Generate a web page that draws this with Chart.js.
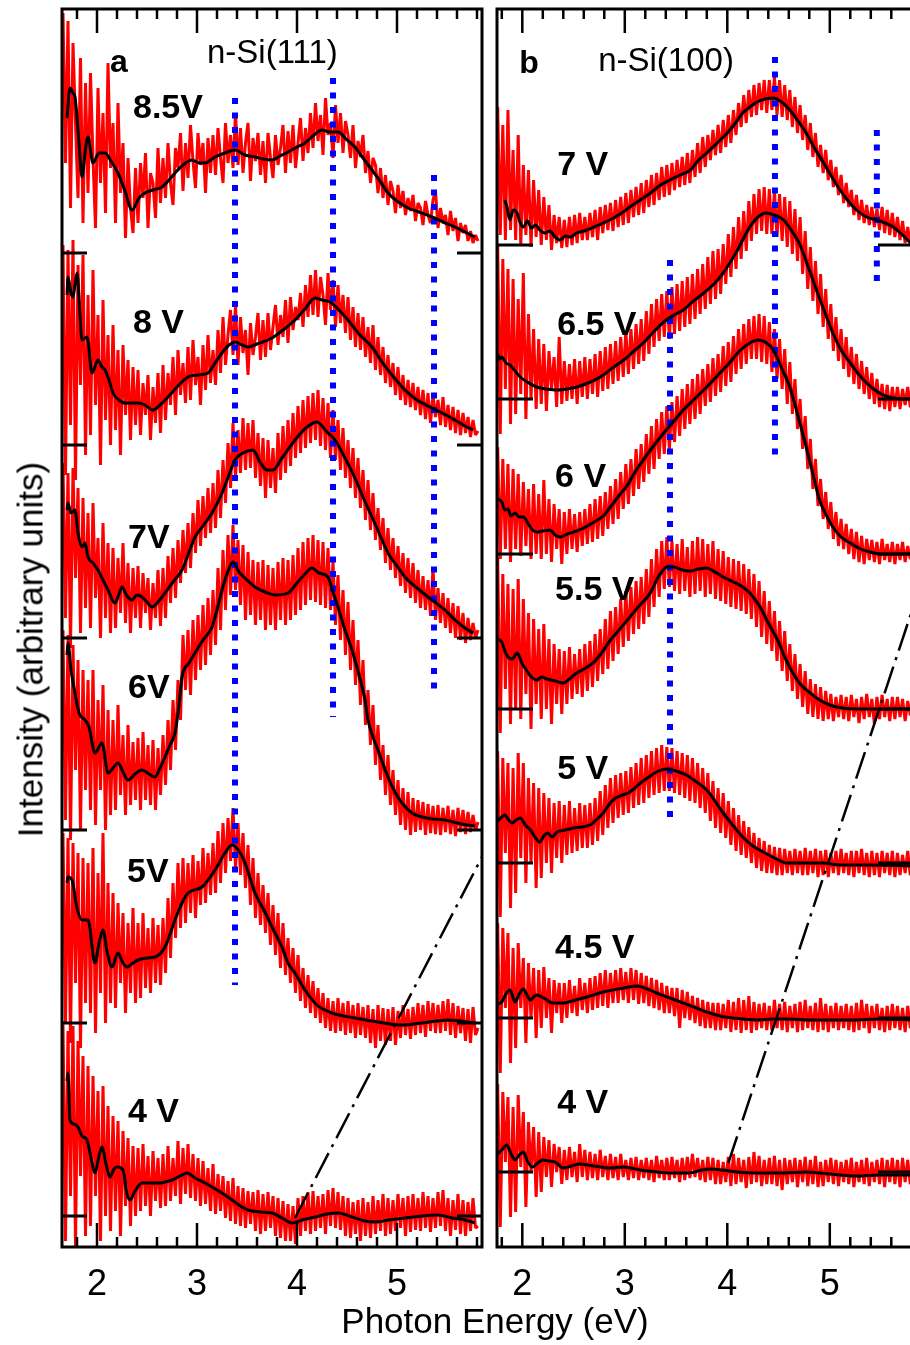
<!DOCTYPE html>
<html>
<head>
<meta charset="utf-8">
<script src="https://cdn.jsdelivr.net/npm/chart.js@4.4.1/dist/chart.umd.min.js"></script>
<style>
  html, body { margin: 0; padding: 0; background: #fff; }
  body { width: 910px; height: 1345px; overflow: hidden; position: relative; font-family: "Liberation Sans", Arial, sans-serif; }
  #panelA { position: absolute; left: 0; top: 0; }
  #panelB { position: absolute; left: 490px; top: 0; }
  .xtitle { position: absolute; left: 295px; top: 1303px; width: 400px; height: 35px; line-height: 35px; font-size: 35px; text-align: center; color: #000; }
  .ytitle { position: absolute; left: -220px; top: 632px; width: 500px; height: 35px; line-height: 35px; font-size: 35px; text-align: center; color: #000; transform: rotate(-90deg); }
</style>
</head>
<body>
<canvas id="panelA" width="490" height="1345"></canvas>
<canvas id="panelB" width="440" height="1345"></canvas>
<div class="xtitle">Photon Energy (eV)</div>
<div class="ytitle">Intensity (arbitrary units)</div>
<script>
// photon energy grid of the measured spectra (eV)
var energy = [
  1.66, 1.685, 1.71, 1.735, 1.76, 1.785, 1.81, 1.835, 1.86, 1.885,
  1.91, 1.935, 1.96, 1.985, 2.01, 2.035, 2.06, 2.085, 2.11, 2.135,
  2.16, 2.185, 2.21, 2.235, 2.26, 2.285, 2.31, 2.335, 2.36, 2.385,
  2.41, 2.435, 2.46, 2.485, 2.51, 2.535, 2.56, 2.585, 2.61, 2.635,
  2.66, 2.685, 2.71, 2.735, 2.76, 2.785, 2.81, 2.835, 2.86, 2.885,
  2.91, 2.935, 2.96, 2.985, 3.01, 3.035, 3.06, 3.085, 3.11, 3.135,
  3.16, 3.185, 3.21, 3.235, 3.26, 3.285, 3.31, 3.335, 3.36, 3.385,
  3.41, 3.435, 3.46, 3.485, 3.51, 3.535, 3.56, 3.585, 3.61, 3.635,
  3.66, 3.685, 3.71, 3.735, 3.76, 3.785, 3.81, 3.835, 3.86, 3.885,
  3.91, 3.935, 3.96, 3.985, 4.01, 4.035, 4.06, 4.085, 4.11, 4.135,
  4.16, 4.185, 4.21, 4.235, 4.26, 4.285, 4.31, 4.335, 4.36, 4.385,
  4.41, 4.435, 4.46, 4.485, 4.51, 4.535, 4.56, 4.585, 4.61, 4.635,
  4.66, 4.685, 4.71, 4.735, 4.76, 4.785, 4.81, 4.835, 4.86, 4.885,
  4.91, 4.935, 4.96, 4.985, 5.01, 5.035, 5.06, 5.085, 5.11, 5.135,
  5.16, 5.185, 5.21, 5.235, 5.26, 5.285, 5.31, 5.335, 5.36, 5.385,
  5.41, 5.435, 5.46, 5.485, 5.51, 5.535, 5.56, 5.585, 5.61, 5.635,
  5.66, 5.685, 5.71, 5.735, 5.76, 5.785, 5.81
];

// ---- panel a : n-Si(111) ----
var voltsA = ['8.5V', '8 V', '7V', '6V', '5V', '4 V'];
var offsetsA = [994, 802, 609, 417, 224, 31];

var redA85 = [
  240, 90, 232, 45, 210, 130, 55, 195, 30, 170,
  60, 180, 95, 25, 165, 70, 140, 40, 190, 85,
  130, 30, 150, 60, 110, 15, 95, 45, 20, 85,
  30, 90, 55, 100, 25, 80, 70, 35, 105, 50,
  95, 55, 110, 70, 48, 105, 85, 120, 62, 110,
  75, 128, 92, 65, 120, 88, 110, 60, 115, 80,
  118, 78, 125, 95, 70, 130, 90, 118, 85, 140,
  88, 125, 80, 110, 130, 72, 115, 92, 120, 78,
  112, 70, 120, 95, 75, 118, 88, 105, 128, 80,
  122, 90, 128, 85, 110, 135, 92, 125, 100, 140,
  105, 150, 112, 138, 98, 155, 118, 130, 95, 148,
  110, 140, 100, 132, 118, 95, 128, 85, 112, 96,
  118, 80, 102, 70, 95, 88, 60, 85, 55, 78,
  48, 72, 62, 40, 68, 45, 62, 38, 55, 42,
  58, 32, 50, 45, 28, 52, 38, 30, 53, 62,
  25, 45, 30, 38, 18, 42, 22, 35, 12, 30,
  20, 28, 12, 22, 10, 18, 12
];
var redA8 = [
  200, -30, 195, 20, 205, -35, 180, 60, 190, -10,
  150, 10, 175, 40, 130, -20, 145, 25, 110, 0,
  120, 15, 95, -10, 100, 30, 85, 5, 78, 20,
  75, 10, 62, 30, 70, 5, 58, 22, 72, 12,
  80, 25, 72, 40, 88, 30, 95, 50, 82, 42,
  98, 45, 105, 60, 88, 40, 100, 55, 110, 62,
  95, 60, 115, 72, 128, 80, 110, 135, 90, 140,
  80, 128, 92, 115, 70, 122, 90, 108, 132, 85,
  125, 88, 132, 95, 118, 140, 100, 130, 108, 145,
  102, 148, 115, 138, 125, 152, 118, 160, 128, 170,
  130, 175, 128, 168, 150, 120, 172, 135, 165, 118,
  160, 122, 150, 112, 148, 105, 138, 98, 132, 95,
  128, 88, 118, 82, 120, 75, 108, 70, 98, 62,
  90, 58, 82, 50, 78, 45, 70, 40, 65, 38,
  62, 35, 58, 30, 55, 26, 52, 22, 50, 28,
  45, 20, 48, 18, 40, 15, 38, 12, 35, 10,
  32, 12, 28, 8, 25, 10, 14
];
var redA7 = [
  175, 20, 165, -10, 170, 60, 150, 5, 140, 30,
  125, 10, 135, 40, 100, 0, 115, 20, 95, 5,
  90, 10, 80, 25, 95, 15, 75, 5, 70, 20,
  72, 10, 65, 25, 60, 8, 55, 20, 68, 12,
  70, 20, 82, 35, 90, 40, 98, 55, 108, 65,
  115, 70, 125, 85, 138, 92, 142, 100, 150, 105,
  155, 110, 168, 120, 178, 135, 195, 150, 215, 160,
  208, 165, 220, 168, 215, 170, 218, 160, 205, 152,
  200, 140, 198, 150, 190, 145, 205, 158, 212, 165,
  218, 172, 225, 180, 232, 185, 238, 190, 242, 195,
  245, 198, 248, 192, 240, 188, 235, 180, 228, 178,
  218, 168, 210, 160, 198, 150, 190, 140, 180, 130,
  168, 118, 158, 108, 145, 98, 130, 88, 120, 75,
  110, 68, 100, 60, 92, 52, 85, 45, 80, 40,
  75, 35, 68, 30, 62, 28, 58, 22, 70, 18,
  50, 15, 45, 10, 40, 5, 35, 0, 32, -2,
  25, -5, 20, -2, 15, 0, 8
];
var redA6 = [
  200, 10, 195, -10, 185, 60, 170, 0, 160, 40,
  150, 20, 160, 5, 130, 40, 145, 0, 120, 15,
  110, 20, 125, 35, 95, 15, 105, 25, 88, 30,
  92, 20, 98, 30, 85, 25, 90, 20, 82, 35,
  95, 45, 110, 60, 130, 80, 150, 110, 195, 140,
  200, 135, 210, 150, 215, 160, 225, 165, 232, 175,
  240, 185, 262, 200, 280, 220, 295, 235, 305, 240,
  290, 225, 285, 210, 278, 215, 270, 205, 268, 210,
  270, 200, 265, 205, 262, 200, 268, 210, 272, 205,
  270, 210, 275, 215, 282, 220, 288, 225, 292, 230,
  295, 228, 290, 225, 288, 222, 282, 220, 268, 205,
  255, 190, 240, 175, 228, 160, 210, 145, 190, 125,
  170, 105, 140, 85, 125, 65, 105, 50, 85, 35,
  75, 25, 60, 15, 50, 5, 42, 0, 38, -5,
  32, -2, 30, 0, 28, -5, 26, -3, 24, -4,
  25, -5, 22, -2, 24, -4, 20, -6, 22, -2,
  20, -4, 18, -2, 15, 0, 8
];
var redA5 = [
  190, 0, 185, -20, 180, 40, 170, -25, 165, 20,
  160, 10, 175, -10, 150, 30, 190, 0, 140, 20,
  130, 15, 120, 40, 110, 10, 100, 30, 115, 20,
  100, 25, 110, 35, 95, 30, 105, 40, 98, 38,
  105, 50, 125, 65, 140, 85, 160, 95, 165, 100,
  160, 110, 168, 105, 162, 118, 175, 120, 170, 128,
  180, 130, 192, 140, 200, 150, 205, 162, 215, 155,
  200, 148, 190, 135, 178, 118, 165, 105, 150, 98,
  138, 90, 130, 78, 118, 68, 110, 55, 100, 48,
  85, 40, 75, 30, 68, 22, 55, 15, 48, 10,
  42, 5, 35, 0, 30, -5, 25, -8, 22, -10,
  25, -8, 20, -12, 22, -10, 18, -15, 20, -12,
  16, -15, 18, -20, 14, -25, 18, -18, 15, -22,
  14, -18, 16, -22, 12, -15, 18, -12, 14, -16,
  16, -12, 20, -10, 18, -14, 22, -8, 20, -10,
  18, -10, 22, -8, 24, -12, 20, -15, 17, -10,
  15, -18, 14, -20, 16, -12, -5
];
var redA4 = [
  193, -25, 185, 20, 190, -30, 175, 40, 160, -20,
  150, -10, 140, 20, 125, -25, 130, 0, 110, -15,
  100, 5, 95, -20, 85, 10, 78, -10, 70, 0,
  68, 5, 72, 10, 60, 0, 65, 15, 58, 8,
  62, 10, 70, 15, 58, 20, 75, 12, 68, 22,
  72, 18, 62, 15, 58, 10, 55, 12, 48, 5,
  52, 2, 42, 5, 40, -2, 35, -5, 38, -8,
  30, -10, 28, -12, 25, -8, 24, -15, 26, -18,
  22, -15, 24, -12, 20, -20, 18, -22, 15, -25,
  12, -25, 10, -28, 18, -20, 20, -15, 24, -18,
  25, -15, 20, -12, 22, -18, 26, -10, 28, -12,
  24, -14, 20, -20, 18, -22, 14, -18, 16, -25,
  18, -20, 14, -22, 20, -18, 16, -15, 22, -20,
  18, -18, 16, -15, 22, -12, 18, -20, 20, -16,
  22, -14, 18, -15, 24, -12, 20, -16, 18, -12,
  24, -10, 26, -15, 18, -20, 16, -14, 22, -18,
  16, -20, 14, -15, 18, -12, -10
];

// smoothed spectra, [energy, intensity]
var fitA85 = [[1.70,135],[1.73,165],[1.76,160],[1.78,156],[1.82,110],[1.85,76],[1.88,100],[1.91,116],[1.96,90],[2.02,100],[2.08,100],[2.14,92],[2.21,80],[2.28,62],[2.35,43],[2.42,55],[2.48,60],[2.56,63],[2.65,66],[2.72,73],[2.78,80],[2.86,88],[2.95,93],[3.02,90],[3.08,90],[3.18,96],[3.28,100],[3.38,103],[3.48,98],[3.58,96],[3.66,94],[3.75,93],[3.83,97],[3.91,101],[4.00,106],[4.08,110],[4.17,118],[4.25,123],[4.33,121],[4.41,121],[4.50,113],[4.58,106],[4.66,95],[4.75,83],[4.83,72],[4.91,60],[5.00,52],[5.11,45],[5.22,41],[5.35,36],[5.46,31],[5.58,26],[5.68,21],[5.78,16]];
var fitA8 = [[1.70,150],[1.71,168],[1.74,152],[1.76,148],[1.78,160],[1.80,172],[1.83,130],[1.85,105],[1.90,108],[1.95,72],[2.01,85],[2.05,78],[2.08,75],[2.12,65],[2.16,52],[2.22,45],[2.28,42],[2.41,42],[2.48,40],[2.56,35],[2.63,40],[2.71,48],[2.80,58],[2.91,68],[3.01,70],[3.11,72],[3.18,82],[3.25,92],[3.32,100],[3.38,103],[3.45,100],[3.51,98],[3.60,101],[3.75,107],[3.86,115],[3.98,125],[4.08,136],[4.18,147],[4.25,145],[4.33,143],[4.42,135],[4.51,125],[4.62,111],[4.75,98],[4.85,83],[4.95,70],[5.08,55],[5.20,45],[5.35,37],[5.47,31],[5.58,25],[5.68,19],[5.76,15]];
var fitA7 = [[1.70,128],[1.71,135],[1.74,125],[1.78,128],[1.81,105],[1.85,91],[1.88,95],[1.91,81],[1.96,75],[2.01,68],[2.06,58],[2.11,48],[2.18,35],[2.22,44],[2.25,51],[2.30,42],[2.35,38],[2.40,43],[2.45,41],[2.50,36],[2.55,31],[2.61,36],[2.68,45],[2.76,56],[2.85,68],[2.91,83],[2.98,101],[3.06,112],[3.15,125],[3.25,145],[3.32,163],[3.38,178],[3.46,185],[3.56,188],[3.63,176],[3.70,168],[3.76,168],[3.85,180],[3.98,198],[4.10,211],[4.20,216],[4.30,206],[4.38,198],[4.48,180],[4.58,160],[4.66,141],[4.75,121],[4.83,103],[4.91,85],[5.00,72],[5.08,61],[5.20,50],[5.35,38],[5.48,28],[5.58,18],[5.68,10],[5.76,5]];
var fitA6 = [[1.70,175],[1.71,187],[1.74,160],[1.78,137],[1.82,117],[1.88,110],[1.92,103],[1.98,77],[2.05,87],[2.11,57],[2.16,62],[2.21,67],[2.26,58],[2.31,50],[2.38,56],[2.45,60],[2.52,56],[2.58,53],[2.63,62],[2.68,73],[2.73,85],[2.78,97],[2.82,125],[2.85,153],[2.92,167],[2.98,177],[3.06,190],[3.15,203],[3.20,220],[3.25,240],[3.30,256],[3.36,268],[3.42,258],[3.48,252],[3.58,243],[3.68,238],[3.78,235],[3.91,237],[4.00,247],[4.08,256],[4.15,262],[4.22,257],[4.31,253],[4.36,238],[4.41,223],[4.48,200],[4.55,180],[4.62,155],[4.68,130],[4.71,110],[4.76,93],[4.81,80],[4.86,66],[4.91,53],[4.98,38],[5.05,27],[5.15,17],[5.25,13],[5.35,11],[5.48,10],[5.60,7],[5.70,5],[5.78,4]];
var fitA5 = [[1.70,140],[1.71,146],[1.75,143],[1.80,115],[1.85,103],[1.91,103],[1.98,60],[2.02,80],[2.06,93],[2.10,72],[2.15,56],[2.21,70],[2.26,60],[2.30,56],[2.36,60],[2.41,63],[2.50,65],[2.58,66],[2.68,76],[2.78,103],[2.85,120],[2.91,130],[3.05,136],[3.18,153],[3.28,170],[3.35,178],[3.42,172],[3.48,160],[3.58,130],[3.68,111],[3.76,94],[3.85,76],[3.91,60],[3.98,50],[4.08,33],[4.20,18],[4.35,10],[4.58,5],[4.81,1],[5.05,-2],[5.25,0],[5.51,3],[5.78,0]];
var fitA4 = [[1.70,135],[1.71,143],[1.73,96],[1.77,92],[1.81,89],[1.85,80],[1.90,76],[1.94,58],[1.98,43],[2.02,60],[2.05,69],[2.09,52],[2.13,39],[2.17,47],[2.20,49],[2.26,46],[2.30,22],[2.33,16],[2.38,25],[2.45,33],[2.55,33],[2.61,33],[2.75,36],[2.83,40],[2.90,43],[2.98,38],[3.08,33],[3.20,26],[3.31,19],[3.42,11],[3.51,6],[3.63,4],[3.75,3],[3.85,-2],[3.95,-7],[4.05,-4],[4.18,-1],[4.30,2],[4.41,3],[4.55,-1],[4.68,-5],[4.78,-6],[4.92,-4],[5.08,-2],[5.25,0],[5.41,1],[5.55,-2],[5.68,-4],[5.78,-7]];

var peaksA = [3.38, 4.36, 5.37];
var peakTopA = [1149, 1169, 1072];
var peakBottomA = [262, 530, 552];
var guideA = [[3.98, 29], [5.85, 390]];

// ---- panel b : n-Si(100) ----
var voltsB = ['7 V', '6.5 V', '6 V', '5.5 V', '5 V', '4.5 V', '4 V'];
var offsetsB = [1002, 848, 693, 538, 384, 229, 75];

var redB7 = [
  100, 20, 110, 30, 138, 10, 120, 5, 135, 15,
  95, 5, 110, 0, 80, 10, 75, -2, 65, 8,
  55, 0, 48, 5, 40, -5, 30, 2, 28, -3,
  25, -2, 28, 0, 30, 2, 32, 5, 28, 5,
  32, 8, 35, 5, 38, 12, 40, 15, 42, 14,
  45, 18, 48, 20, 52, 22, 55, 28, 58, 30,
  62, 32, 65, 38, 70, 40, 72, 45, 78, 48,
  80, 50, 82, 55, 85, 58, 88, 60, 92, 62,
  95, 68, 102, 72, 108, 78, 110, 85, 115, 90,
  120, 92, 125, 98, 130, 102, 135, 110, 142, 118,
  150, 122, 155, 128, 160, 130, 162, 135, 165, 132,
  165, 135, 168, 130, 165, 128, 160, 125, 155, 118,
  148, 112, 140, 105, 130, 95, 122, 88, 112, 78,
  100, 72, 95, 65, 85, 58, 78, 50, 70, 42,
  62, 38, 55, 30, 50, 25, 45, 22, 40, 20,
  38, 18, 36, 15, 38, 12, 35, 10, 32, 8,
  28, 5, 24, 2, 18, 0, 10
];
var redB65 = [
  150, -30, 158, -20, 155, -35, 140, 10, 130, -25,
  120, -15, 100, 5, 126, -20, 85, 0, 70, -10,
  60, -5, 55, -12, 48, 10, 42, -8, 62, -5,
  38, -2, 35, 0, 40, -5, 38, 2, 42, 0,
  40, 5, 45, 2, 48, 8, 52, 10, 55, 15,
  58, 18, 62, 22, 68, 25, 70, 30, 75, 35,
  80, 38, 88, 45, 95, 52, 100, 58, 105, 62,
  108, 60, 112, 65, 115, 68, 118, 72, 122, 75,
  125, 80, 130, 85, 135, 90, 142, 95, 148, 100,
  150, 105, 155, 115, 165, 122, 172, 130, 182, 140,
  188, 148, 198, 158, 205, 165, 210, 168, 212, 165,
  210, 165, 208, 162, 205, 158, 202, 152, 198, 145,
  190, 138, 182, 125, 168, 110, 152, 98, 138, 85,
  125, 72, 110, 60, 95, 48, 82, 38, 70, 30,
  62, 22, 52, 15, 45, 10, 38, 5, 32, 0,
  26, -5, 20, -8, 15, -10, 14, -12, 12, -8,
  12, -10, 10, -6, 12, -8, -5
];
var redB6 = [
  100, 0, 105, 10, 107, -5, 95, 5, 90, -8,
  85, 5, 80, -2, 72, 8, 65, -5, 70, 0,
  60, -5, 74, 0, 55, -8, 50, 5, 45, -10,
  42, 0, 45, 5, 40, 2, 42, 8, 45, 10,
  50, 12, 55, 15, 58, 18, 62, 25, 68, 30,
  75, 35, 82, 45, 90, 50, 95, 58, 105, 65,
  110, 72, 120, 80, 128, 85, 135, 95, 142, 100,
  148, 105, 152, 112, 158, 118, 165, 125, 170, 130,
  175, 135, 180, 140, 185, 148, 190, 152, 196, 158,
  200, 162, 208, 168, 212, 172, 218, 180, 225, 185,
  230, 190, 235, 195, 238, 195, 240, 192, 238, 190,
  232, 182, 225, 175, 215, 165, 205, 150, 192, 140,
  175, 125, 155, 105, 138, 85, 115, 65, 95, 48,
  75, 35, 62, 25, 52, 15, 42, 8, 35, 5,
  30, 0, 25, -5, 22, -8, 18, -10, 15, -6,
  14, -8, 12, -10, 15, -6, 10, -8, 12, -10,
  10, -6, 12, -8, 8, -5, -3
];
var redB55 = [
  140, -20, 150, 10, 152, -24, 135, 20, 125, -15,
  120, 0, 130, -10, 110, 15, 96, -20, 90, 5,
  80, -10, 85, 0, 70, -15, 65, 5, 60, -5,
  58, 5, 62, 10, 55, 15, 60, 12, 65, 18,
  68, 22, 75, 28, 80, 35, 90, 40, 98, 48,
  102, 55, 110, 62, 118, 68, 122, 75, 128, 80,
  132, 85, 140, 92, 150, 102, 160, 112, 168, 120,
  172, 122, 168, 118, 165, 115, 170, 118, 162, 112,
  168, 115, 172, 118, 170, 112, 165, 115, 168, 110,
  160, 108, 158, 105, 152, 102, 150, 100, 148, 98,
  145, 95, 140, 90, 135, 82, 128, 72, 118, 65,
  108, 58, 98, 48, 88, 38, 78, 28, 65, 18,
  55, 10, 45, 2, 38, -5, 30, -8, 25, -10,
  22, -12, 18, -10, 15, -12, 12, -8, 14, -10,
  12, -12, 14, -8, 10, -14, 12, -10, 15, -8,
  10, -15, 12, -10, 14, -8, 10, -12, 12, -10,
  12, -8, 10, -12, 8, -6, -5
];
var redB5 = [
  110, -40, 115, 0, 112, -54, 105, 10, 100, -45,
  95, -30, 110, 5, 100, -20, 85, 0, 80, -25,
  75, -15, 70, 0, 65, -10, 60, 5, 62, 0,
  58, 8, 62, 10, 55, 12, 60, 15, 58, 15,
  60, 18, 65, 22, 72, 28, 78, 35, 85, 40,
  88, 45, 90, 48, 92, 50, 96, 55, 100, 58,
  105, 60, 108, 65, 112, 68, 115, 70, 118, 72,
  116, 72, 115, 70, 112, 68, 110, 65, 108, 62,
  105, 60, 100, 55, 95, 50, 90, 42, 82, 35,
  75, 30, 70, 25, 62, 18, 55, 12, 48, 8,
  42, 5, 36, 0, 30, -5, 25, -8, 22, -10,
  18, -10, 16, -12, 15, -12, 14, -10, 12, -12,
  14, -10, 12, -12, 15, -12, 12, -10, 14, -14,
  12, -12, 13, -14, 10, -10, 12, -12, 14, -10,
  10, -12, 12, -14, 12, -10, 14, -12, 10, -14,
  12, -12, 10, -14, 12, -10, 10, -12, 12, -14,
  10, -12, 8, -10, 12, -12, -8
];
var redB45 = [
  100, -50, 105, 0, 95, -55, 90, 10, 85, -45,
  70, -30, 75, 10, 60, -25, 55, 0, 50, -20,
  48, -10, 51, 0, 40, -15, 38, 5, 35, -5,
  35, 0, 38, 5, 32, 2, 40, 8, 35, 5,
  40, 8, 42, 10, 45, 12, 48, 10, 45, 15,
  48, 15, 50, 18, 46, 15, 50, 18, 48, 14,
  45, 15, 42, 12, 40, 10, 38, 8, 35, 5,
  32, 5, 30, 2, 30, -10, 28, 0, 26, -2,
  22, -5, 20, -8, 18, -10, 16, -10, 15, -12,
  15, -12, 14, -10, 18, -14, 16, -12, 20, -15,
  18, -12, 22, -15, 16, -12, 14, -10, 15, -12,
  12, -12, 18, -10, 14, -12, 16, -14, 12, -10,
  14, -14, 16, -12, 18, -10, 12, -12, 15, -14,
  20, -12, 14, -14, 12, -10, 15, -12, 12, -10,
  14, -12, 12, -14, 15, -12, 18, -10, 14, -15,
  12, -10, 14, -12, 10, -14, 12, -12, 14, -10,
  12, -12, 10, -14, 12, -10, -6
];
var redB4 = [
  85, -50, 90, 0, 88, -55, 80, 10, 75, -45,
  65, -40, 77, 5, 60, -35, 50, 0, 45, -25,
  40, -20, 35, -5, 32, -15, 28, 0, 25, -12,
  22, -8, 25, -5, 20, -10, 28, -5, 22, -8,
  20, -6, 18, -8, 22, -5, 16, -8, 18, -6,
  15, -8, 18, -5, 12, -8, 14, -6, 15, -8,
  12, -6, 14, -8, 12, -10, 16, -6, 12, -8,
  14, -8, 15, -6, 12, -10, 14, -8, 15, -6,
  18, -5, 14, -8, 12, -10, 15, -8, 14, -12,
  12, -12, 10, -10, 15, -14, 18, -12, 14, -10,
  12, -16, 15, -12, 20, -10, 16, -14, 12, -12,
  14, -12, 16, -14, 12, -18, 14, -12, 12, -10,
  14, -15, 12, -10, 15, -14, 12, -12, 16, -15,
  10, -14, 12, -10, 14, -12, 12, -14, 10, -10,
  12, -12, 14, -15, 10, -10, 12, -12, 14, -14,
  10, -10, 12, -12, 14, -15, 12, -10, 14, -12,
  12, -15, 14, -10, 12, -12, -8
];

var fitB7 = [[1.83,45],[1.85,38],[1.88,25],[1.91,35],[1.95,32],[1.98,22],[2.01,18],[2.05,24],[2.09,17],[2.13,20],[2.17,15],[2.22,12],[2.27,14],[2.32,8],[2.37,5],[2.42,9],[2.47,8],[2.53,12],[2.60,14],[2.70,18],[2.79,22],[2.89,27],[2.97,32],[3.05,38],[3.15,45],[3.25,52],[3.35,60],[3.44,65],[3.54,70],[3.64,75],[3.72,85],[3.80,92],[3.90,102],[4.00,112],[4.08,122],[4.15,132],[4.22,138],[4.29,143],[4.37,146],[4.45,147],[4.53,143],[4.61,135],[4.69,124],[4.77,112],[4.85,97],[4.94,82],[5.02,68],[5.10,55],[5.18,44],[5.26,35],[5.36,28],[5.46,25],[5.54,22],[5.62,18],[5.70,11],[5.78,3],[5.83,1]];
var fitB65 = [[1.76,45],[1.78,40],[1.80,42],[1.84,36],[1.88,34],[1.93,28],[1.98,22],[2.05,17],[2.14,12],[2.24,10],[2.34,9],[2.43,10],[2.53,12],[2.64,16],[2.76,22],[2.88,31],[2.99,39],[3.09,48],[3.18,56],[3.28,67],[3.38,77],[3.48,84],[3.57,89],[3.67,98],[3.77,106],[3.87,115],[3.96,126],[4.03,137],[4.10,149],[4.16,161],[4.22,172],[4.30,182],[4.38,186],[4.46,184],[4.55,179],[4.63,168],[4.71,154],[4.79,132],[4.87,109],[4.95,87],[5.03,66],[5.11,49],[5.20,36],[5.28,25],[5.36,16],[5.44,9],[5.52,4],[5.62,1],[5.72,0],[5.83,0]];
var fitB6 = [[1.76,55],[1.80,52],[1.83,44],[1.86,45],[1.89,38],[1.93,41],[1.97,37],[2.01,37],[2.06,30],[2.10,24],[2.14,22],[2.20,23],[2.27,24],[2.32,19],[2.37,17],[2.44,20],[2.50,22],[2.60,26],[2.70,32],[2.79,38],[2.86,47],[2.94,58],[3.02,68],[3.10,82],[3.18,94],[3.28,108],[3.38,121],[3.48,133],[3.57,144],[3.68,155],[3.80,167],[3.91,179],[4.02,191],[4.12,203],[4.22,211],[4.30,214],[4.37,212],[4.45,204],[4.53,186],[4.61,167],[4.69,138],[4.77,107],[4.84,78],[4.90,54],[4.97,38],[5.03,27],[5.11,17],[5.20,11],[5.30,5],[5.39,2],[5.50,0],[5.83,0]];
var fitB55 = [[1.76,70],[1.80,67],[1.83,58],[1.86,52],[1.90,50],[1.95,56],[2.00,45],[2.04,39],[2.08,33],[2.14,29],[2.19,32],[2.24,30],[2.32,28],[2.40,26],[2.46,30],[2.53,36],[2.62,41],[2.70,47],[2.78,57],[2.86,69],[2.96,81],[3.05,92],[3.13,102],[3.22,112],[3.27,120],[3.31,129],[3.36,137],[3.41,142],[3.48,142],[3.56,139],[3.64,138],[3.72,140],[3.80,141],[3.88,137],[3.96,132],[4.06,127],[4.15,122],[4.22,116],[4.28,108],[4.32,102],[4.40,86],[4.49,69],[4.56,52],[4.64,36],[4.72,24],[4.81,16],[4.90,9],[5.00,4],[5.12,1],[5.26,0],[5.83,0]];
var fitB5 = [[1.76,42],[1.80,46],[1.83,48],[1.86,44],[1.90,40],[1.94,43],[1.98,45],[2.03,38],[2.08,33],[2.13,25],[2.17,21],[2.21,27],[2.25,30],[2.29,26],[2.34,31],[2.42,33],[2.50,35],[2.58,36],[2.66,38],[2.73,44],[2.79,50],[2.85,59],[2.91,65],[2.98,68],[3.05,71],[3.14,79],[3.22,85],[3.31,91],[3.41,94],[3.50,92],[3.60,88],[3.70,81],[3.80,73],[3.88,62],[3.96,50],[4.06,37],[4.15,26],[4.25,17],[4.35,11],[4.46,5],[4.58,0],[4.75,0],[4.93,0],[5.10,-2],[5.40,-2],[5.83,-3]];
var fitB45 = [[1.76,14],[1.80,16],[1.84,24],[1.88,28],[1.93,16],[1.97,24],[2.01,29],[2.05,22],[2.08,18],[2.11,21],[2.14,23],[2.21,20],[2.30,15],[2.40,15],[2.52,18],[2.63,21],[2.79,26],[2.99,30],[3.12,32],[3.22,29],[3.31,25],[3.44,20],[3.57,15],[3.70,10],[3.80,6],[3.93,2],[4.06,0],[4.29,-2],[4.45,-1],[4.61,-1],[4.80,-2],[4.93,-2],[5.20,-2],[5.50,-1],[5.83,-2]];
var fitB4 = [[1.76,18],[1.80,22],[1.85,27],[1.89,18],[1.93,12],[1.97,17],[2.01,20],[2.05,11],[2.10,5],[2.15,9],[2.20,12],[2.26,11],[2.32,10],[2.40,4],[2.48,6],[2.56,8],[2.70,6],[2.86,4],[2.99,5],[3.15,2],[3.31,0],[3.47,-1],[3.63,-1],[3.75,2],[3.83,3],[3.95,2],[4.10,0],[4.29,-1],[4.50,-1],[4.78,0],[5.00,-2],[5.26,-4],[5.50,-3],[5.83,-3]];

var peaksB = [4.465, 5.459, 3.441];
var peakTopB = [1190, 1117, 987];
var peakBottomB = [784, 959, 423];
var guideB = [[4.01, 84], [5.83, 645]];

var tickValues = [2, 3, 4, 5];

var FONT = '"Liberation Sans", Arial, sans-serif';

// builds red spectra, blue peak markers, black fits and the dash-dot guide
function buildDatasets(p) {
    var sets = [];
    p.red.forEach(function (vals, k) {
        sets.push({
            data: vals.map(function (v, i) { return { x: energy[i], y: p.offsets[k] + v }; }),
            borderColor: '#ff0000',
            borderWidth: 3,
            borderJoinStyle: 'bevel',
            pointRadius: 0,
            tension: 0,
            order: 3
        });
    });
    p.peaks.forEach(function (e, k) {
        sets.push({
            data: [{ x: e, y: p.peakTop[k] }, { x: e, y: p.peakBottom[k] }],
            borderColor: '#0000ff',
            borderWidth: 6,
            borderDash: [6, 8.5],
            borderCapStyle: 'butt',
            pointRadius: 0,
            order: 2
        });
    });
    p.fit.forEach(function (pts, k) {
        sets.push({
            data: pts.map(function (q) { return { x: q[0], y: p.offsets[k] + q[1] }; }),
            borderColor: '#000000',
            borderWidth: 3,
            borderJoinStyle: 'round',
            pointRadius: 0,
            cubicInterpolationMode: 'monotone',
            order: 1
        });
    });
    sets.push({
        data: p.guide.map(function (q) { return { x: q[0], y: q[1] }; }),
        borderColor: '#000000',
        borderWidth: 2.5,
        borderDash: [28, 7, 3, 7],
        pointRadius: 0,
        order: 0
    });
    return sets;
}

// frame, inward ticks, baseline marks and the texts inside each panel
function decorPlugin(p) {
    return {
        id: 'decor',
        afterDatasetsDraw: function (chart) {
            var ctx = chart.ctx, a = chart.chartArea;
            var xs = chart.scales.x, ys = chart.scales.y;
            ctx.save();
            ctx.strokeStyle = '#000';
            ctx.lineWidth = 2.5;
            for (var k = 9; k <= 29; k++) {
                var x = xs.getPixelForValue(k / 5);
                var len = (k % 5 === 0) ? 24 : 10;
                ctx.beginPath();
                ctx.moveTo(x, a.top); ctx.lineTo(x, a.top + len);
                ctx.moveTo(x, a.bottom); ctx.lineTo(x, a.bottom - len);
                ctx.stroke();
            }
            ctx.lineWidth = 3;
            p.offsets.forEach(function (off) {
                var y = ys.getPixelForValue(off);
                ctx.beginPath();
                ctx.moveTo(a.left, y); ctx.lineTo(a.left + p.markLen, y);
                ctx.moveTo(a.right - p.markLen, y); ctx.lineTo(a.right, y);
                ctx.stroke();
            });
            ctx.strokeRect(a.left, a.top, a.right - a.left, a.bottom - a.top);

            ctx.fillStyle = '#000';
            ctx.textBaseline = 'alphabetic';
            ctx.textAlign = 'center';
            ctx.font = '36px ' + FONT;
            tickValues.forEach(function (v) {
                ctx.fillText(String(v), xs.getPixelForValue(v), a.bottom + 48);
            });

            ctx.textAlign = 'left';
            ctx.font = 'bold 34px ' + FONT;
            p.volts.forEach(function (txt, k) {
                ctx.fillText(txt, xs.getPixelForValue(p.voltPos[k][0]), ys.getPixelForValue(p.voltPos[k][1]));
            });
            ctx.font = 'bold 32px ' + FONT;
            ctx.fillText(p.letter, xs.getPixelForValue(p.letterPos[0]), ys.getPixelForValue(p.letterPos[1]));
            ctx.font = '33px ' + FONT;
            ctx.fillText(p.title, xs.getPixelForValue(p.titlePos[0]), ys.getPixelForValue(p.titlePos[1]));
            ctx.restore();
        }
    };
}

function makePanel(canvasId, p) {
    return new Chart(document.getElementById(canvasId), {
        type: 'line',
        data: { datasets: buildDatasets(p) },
        options: {
            responsive: false,
            animation: false,
            events: [],
            layout: { padding: p.padding },
            plugins: { legend: { display: false }, tooltip: { enabled: false } },
            scales: {
                x: { type: 'linear', min: p.xMin, max: p.xMax, display: false },
                y: { type: 'linear', min: 0, max: 1238, display: false }
            }
        },
        plugins: [decorPlugin(p)]
    });
}

makePanel('panelA', {
    red: [redA85, redA8, redA7, redA6, redA5, redA4],
    fit: [fitA85, fitA8, fitA7, fitA6, fitA5, fitA4],
    offsets: offsetsA,
    volts: voltsA,
    voltPos: [[2.36, 1129], [2.36, 914], [2.31, 699], [2.31, 549], [2.30, 365], [2.31, 125]],
    peaks: peaksA, peakTop: peakTopA, peakBottom: peakBottomA,
    guide: guideA,
    letter: 'a', letterPos: [2.13, 1175],
    title: 'n-Si(111)', titlePos: [3.10, 1184],
    markLen: 25,
    xMin: 1.65, xMax: 5.85,
    padding: { left: 62, right: 8, top: 9, bottom: 98 }
});

makePanel('panelB', {
    red: [redB7, redB65, redB6, redB55, redB5, redB45, redB4],
    fit: [fitB7, fitB65, fitB6, fitB55, fitB5, fitB45, fitB4],
    offsets: offsetsB,
    volts: voltsB,
    voltPos: [[2.34, 1072], [2.34, 912], [2.32, 760], [2.32, 647], [2.34, 468], [2.32, 289], [2.34, 134]],
    peaks: peaksB, peakTop: peakTopB, peakBottom: peakBottomB,
    guide: guideB,
    letter: 'b', letterPos: [1.97, 1174],
    title: 'n-Si(100)', titlePos: [2.74, 1176],
    markLen: 36,
    xMin: 1.7532, xMax: 5.8215,
    padding: { left: 7, right: 16, top: 9, bottom: 98 }
});
</script>
</body>
</html>
